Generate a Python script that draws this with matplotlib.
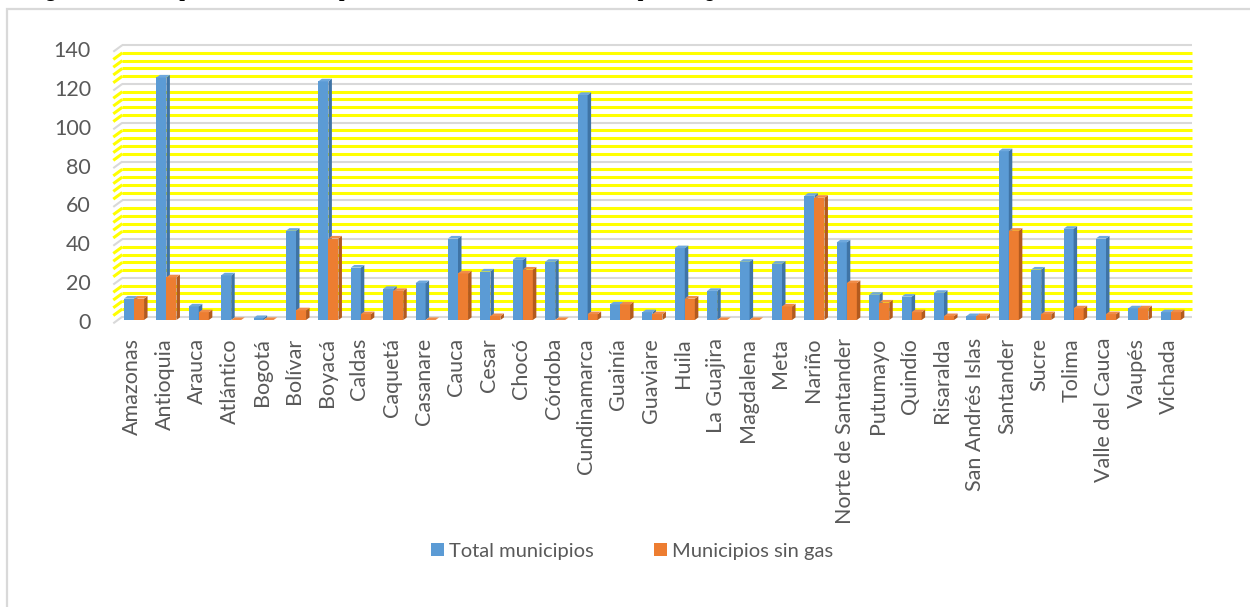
import matplotlib
matplotlib.use("Agg")
import matplotlib.pyplot as plt
from matplotlib.patches import Polygon, Rectangle, Patch

# Municipios por departamento y municipios sin servicio de gas
departamentos = [
    "Amazonas", "Antioquia", "Arauca", "Atlántico", "Bogotá", "Bolívar",
    "Boyacá", "Caldas", "Caquetá", "Casanare", "Cauca", "Cesar", "Chocó",
    "Córdoba", "Cundinamarca", "Guainía", "Guaviare", "Huila", "La Guajira",
    "Magdalena", "Meta", "Nariño", "Norte de Santander", "Putumayo",
    "Quindío", "Risaralda", "San Andrés Islas", "Santander", "Sucre",
    "Tolima", "Valle del Cauca", "Vaupés", "Vichada",
]
total_municipios = [
    11, 125, 7, 23, 1, 46, 123, 27, 16, 19, 42, 25, 31, 30, 116, 8, 4, 37,
    15, 30, 29, 64, 40, 13, 12, 14, 2, 87, 26, 47, 42, 6, 4,
]
municipios_sin_gas = [
    11, 22, 4, 0, 0, 5, 42, 3, 15, 0, 24, 2, 26, 0, 3, 8, 3, 11, 0, 0, 7,
    63, 19, 9, 4, 2, 2, 46, 3, 6, 3, 6, 4,
]
yticks = [0, 20, 40, 60, 80, 100, 120, 140]
series_names = ["Total municipios", "Municipios sin gas"]

W, H = 1250, 607
fig = plt.figure(figsize=(W / 100, H / 100), dpi=100)

TEXT = "#595959"
FONT = "Lato"
FS = 15.5
FS_LEG = 14.5
BLUE = ("#5B9BD5", "#3F74A6", "#6EA8DD")      # front, side, top
ORANGE = ("#ED7D31", "#B35A1E", "#F08C48")
GRID_MAJOR = "#D9D9D9"
GRID_MINOR = "#FFFF00"

# chart frame
fig.add_artist(Rectangle((7 / W, -0.2), 1.3, 1.2 - 9 / H, transform=fig.transFigure,
                         fill=False, ec="#D9D9D9", lw=1.6))

# plane of the columns (pixel layout)
x0_px, x1_px = 117.8, 1187.0
yb_px, yt_px = 320.0, 48.4
ax = fig.add_axes([x0_px / W, 1 - yb_px / H, (x1_px - x0_px) / W, (yb_px - yt_px) / H])
n = len(departamentos)
ax.set_xlim(-0.5, n - 0.5)
ax.set_ylim(0, 140)
ax.axis("off")

px_x = (x1_px - x0_px) / n          # pixels per category
px_y = (yb_px - yt_px) / 140        # pixels per unit
dx = 4.5 / px_x                     # half depth of the floor
dy = 3.3 / px_y

# back wall and side wall gridlines
for v in range(0, 141, 4):
    major = v % 20 == 0
    col = GRID_MAJOR if major else GRID_MINOR
    lw = 1.5 if major else 2.2
    ax.plot([-0.5 + dx, n - 0.5 + dx], [v + dy, v + dy], color=col, lw=lw,
            solid_capstyle="butt", clip_on=False, zorder=1)
    ax.plot([-0.5 - dx, -0.5 + dx], [v - dy, v + dy], color=col, lw=lw,
            solid_capstyle="butt", clip_on=False, zorder=1)

# columns with side and top faces
bw = 0.31
sx = 3.5 / px_x
sy = 2.6 / px_y


def column(x, v, colors, z):
    front, side, top = colors
    ax.add_patch(Rectangle((x, 0), bw, v, fc=front, ec="none", zorder=z, clip_on=False))
    ax.add_patch(Polygon([(x + bw, 0), (x + bw + sx, sy), (x + bw + sx, v + sy), (x + bw, v)],
                         closed=True, fc=side, ec="none", zorder=z, clip_on=False))
    ax.add_patch(Polygon([(x, v), (x + sx, v + sy), (x + bw + sx, v + sy), (x + bw, v)],
                         closed=True, fc=top, ec="none", zorder=z, clip_on=False))


for i in range(n):
    column(i - bw, total_municipios[i], BLUE, 3 + 2 * i)
    column(i, municipios_sin_gas[i], ORANGE, 4 + 2 * i)

# value axis labels
xl = -0.5 + (91 - x0_px) / px_x
for v in yticks:
    ax.text(xl, v - dy + 0.3, str(v), ha="right", va="center", color=TEXT,
            fontsize=FS, family=FONT, clip_on=False)

# category labels
yl = -(338 - yb_px) / px_y
for i, name in enumerate(departamentos):
    ax.text(i - 0.05, yl, name, rotation=90, ha="center", va="top", color=TEXT,
            fontsize=FS, family=FONT, clip_on=False)

# legend
handles = [Patch(fc=BLUE[0], ec="none"), Patch(fc=ORANGE[0], ec="none")]
leg = fig.legend(handles, series_names, loc="center", bbox_to_anchor=(632 / W, 1 - 551 / H),
                 ncol=2, frameon=False, handlelength=0.65, handleheight=0.65,
                 handletextpad=0.25, columnspacing=3.0,
                 prop={"family": FONT, "size": FS_LEG})
for t in leg.get_texts():
    t.set_color(TEXT)

# caption above the chart (it runs off the top of the page)
fig.canvas.draw()
r = fig.canvas.get_renderer()
cap_y = 1 + 4 / H
lab = fig.text(28 / W, cap_y, "Figura 10.", ha="left", va="baseline",
               family="Liberation Serif", weight="bold", fontsize=14.4, color="black")
bb = lab.get_window_extent(renderer=r)
fig.text((bb.x1 + 5) / W, cap_y,
         "Municipios totales en el departamento versus el total de municipios sin gas",
         ha="left", va="baseline", family="Liberation Serif", weight="bold",
         style="italic", fontsize=14.4, color="black")

fig.savefig("out.png", dpi=100)
